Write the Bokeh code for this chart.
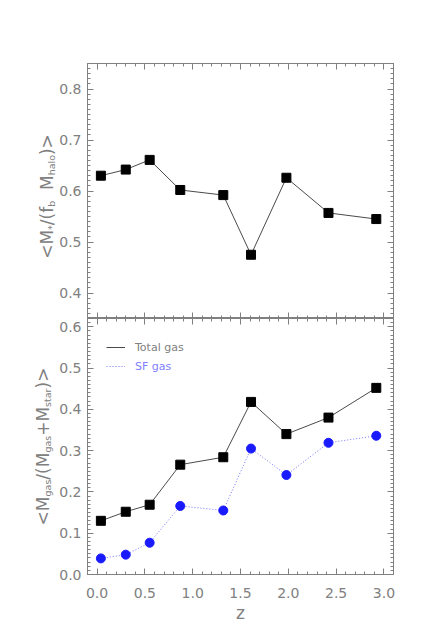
import math
from bokeh.plotting import figure
from bokeh.models import (LinearAxis, SingleIntervalTicker, Range1d, Label, Legend, LegendItem,
                          PrintfTickFormatter, CustomJSTickFormatter)
from bokeh.layouts import column, row
from bokeh.embed import file_html
from bokeh.resources import INLINE

# ---- data ----
redshift = [0.04, 0.30, 0.55, 0.87, 1.32, 1.61, 1.98, 2.42, 2.92]
mstar_over_fb_mhalo = [0.630, 0.642, 0.661, 0.602, 0.592, 0.475, 0.626, 0.557, 0.545]
total_gas_frac = [0.130, 0.152, 0.169, 0.266, 0.284, 0.418, 0.340, 0.380, 0.452]
sf_gas_frac = [0.039, 0.048, 0.077, 0.166, 0.155, 0.305, 0.241, 0.319, 0.336]
legend_labels = ["Total gas", "SF gas"]
x_label = "z"
top_ylabel = [("<M", False), ("*", True), ("/(f", False), ("b", True), ("  M", False), ("halo", True), (")>", False)]
bot_ylabel = [("<M", False), ("gas", True), ("/(M", False), ("gas", True), ("+M", False), ("star", True), (")>", False)]

FONT = "DejaVu Sans"
GREY = "#808080"
LINE_GREY = "#4a4a4a"
SF_LINE = "#7373ff"
SF_TEXT = "#8080ff"

X0, X1 = -0.1, 3.1
LAB_W = 56

# DejaVu Sans advance widths (em) for label layout
W = {'<': .838, '>': .838, 'M': .863, '/': .337, '(': .390, ')': .390, 'f': .352, ' ': .318,
     'b': .635, 'h': .634, 'a': .613, 'l': .278, 'o': .612, 'g': .635, 's': .521, 't': .392,
     'r': .411, '+': .838, '*': .5}
MAIN_SZ, SUB_SZ, SUB_DROP = 17, 9.5, 5


def seg_width(t, sub):
    return sum(W.get(c, .6) for c in t) * (SUB_SZ if sub else MAIN_SZ)


def label_fig(segs, frame_h, top_border, bottom_border, x_base, y_center):
    f = figure(frame_width=LAB_W, frame_height=frame_h, x_range=Range1d(0, LAB_W), y_range=Range1d(0, frame_h),
               output_backend="svg", toolbar_location=None, x_axis_location=None, y_axis_location=None,
               min_border_left=0, min_border_right=0, min_border_top=top_border,
               min_border_bottom=bottom_border, outline_line_color=None,
               background_fill_color="white", border_fill_color="white")
    f.xgrid.visible = False
    f.ygrid.visible = False
    total = sum(seg_width(t, s) for t, s in segs)
    y = y_center - total / 2
    for t, s in segs:
        core = t.lstrip(" ")
        y += seg_width(t[:len(t) - len(core)], s)
        f.add_layout(Label(x=x_base + (SUB_DROP if s else 0), y=y,
                           text=core, angle=math.pi / 2, text_font=FONT,
                           text_font_size=f"{SUB_SZ if s else MAIN_SZ}px", text_color=GREY,
                           text_align="left", text_baseline="alphabetic"))
        y += seg_width(core, s)
    return f


def style_axis(ax, show_labels):
    ax.axis_line_color = GREY
    ax.major_tick_line_color = GREY
    ax.minor_tick_line_color = GREY
    ax.major_tick_in = 6
    ax.major_tick_out = 0
    ax.minor_tick_in = 3
    ax.minor_tick_out = 0
    ax.major_label_text_font = FONT
    ax.major_label_text_color = GREY
    if show_labels:
        ax.major_label_text_font_size = "14px"
        ax.formatter = PrintfTickFormatter(format="%.1f")
    else:
        ax.formatter = CustomJSTickFormatter(code="return ''")
        ax.major_label_text_font_size = "1px"
        ax.major_label_standoff = 0


def make_fig(yr, top_border, bottom_border, frame_h, show_x_labels):
    p = figure(frame_width=306, frame_height=frame_h, x_range=Range1d(X0, X1), y_range=yr,
               output_backend="svg", toolbar_location=None, x_axis_location=None, y_axis_location=None,
               min_border_left=86 - LAB_W, min_border_right=30, min_border_top=top_border,
               min_border_bottom=bottom_border, background_fill_color="white",
               border_fill_color="white", outline_line_color=GREY)
    p.xgrid.visible = False
    p.ygrid.visible = False
    for side in ["below", "above"]:
        ax = LinearAxis(ticker=SingleIntervalTicker(interval=0.5, num_minor_ticks=5))
        style_axis(ax, show_x_labels and side == "below")
        p.add_layout(ax, side)
    for side in ["left", "right"]:
        ax = LinearAxis(ticker=SingleIntervalTicker(interval=0.1, num_minor_ticks=10))
        style_axis(ax, side == "left")
        if side == "left":
            ax.major_label_standoff = 6
        p.add_layout(ax, side)
    return p


# ---- top panel ----
p1 = make_fig(Range1d(0.35, 0.85), 63, 0, 255, False)
p1.line(redshift, mstar_over_fb_mhalo, line_color=LINE_GREY, line_width=1)
p1.scatter(redshift, mstar_over_fb_mhalo, marker="square", size=9, fill_color="black", line_color="black")
l1 = label_fig(top_ylabel, 255, 63, 0, 46, 122)

# ---- bottom panel ----
p2 = make_fig(Range1d(0.0, 0.62), 0, 50, 256, True)
below = p2.below[0]
below.major_label_standoff = 13
below.axis_label = x_label
below.axis_label_text_font = FONT
below.axis_label_text_font_size = "17px"
below.axis_label_text_font_style = "normal"
below.axis_label_text_color = GREY
below.axis_label_standoff = 2

r_tot = p2.line(redshift, total_gas_frac, line_color=LINE_GREY, line_width=1)
p2.scatter(redshift, total_gas_frac, marker="square", size=9, fill_color="black", line_color="black")
r_sf = p2.line(redshift, sf_gas_frac, line_color=SF_LINE, line_width=1, line_dash="1 2")
p2.scatter(redshift, sf_gas_frac, marker="circle", size=9, fill_color="#1a1aff", line_color="#1a1aff")
l2 = label_fig(bot_ylabel, 256, 0, 50, 42, 128)

for lbl, rend, col, loc in [(legend_labels[0], r_tot, GREY, (19, 220)),
                            (legend_labels[1], r_sf, SF_TEXT, (19, 201))]:
    lg = Legend(items=[LegendItem(label=lbl, renderers=[rend])], location=loc,
                padding=0, margin=0, spacing=0, glyph_width=19, glyph_height=14, label_standoff=10,
                label_text_font=FONT, label_text_font_size="11px", label_text_color=col,
                border_line_alpha=0, background_fill_alpha=0, label_height=14)
    p2.add_layout(lg)

layout = column(row(l1, p1, spacing=0), row(l2, p2, spacing=0), spacing=0)
open("out.html", "w").write(file_html(layout, INLINE))
